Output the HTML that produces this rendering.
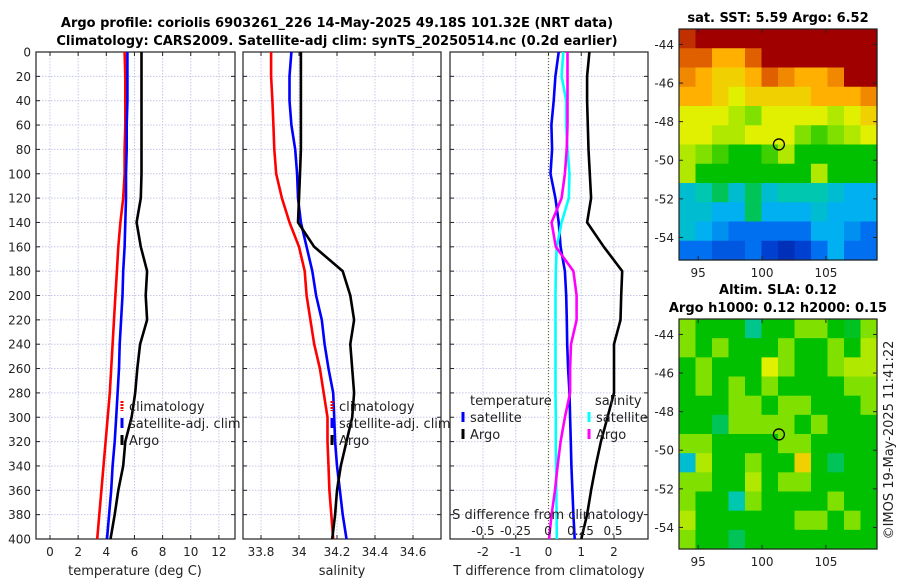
<!DOCTYPE html>
<html><head><meta charset="utf-8"><style>
body{margin:0;background:#fff}
svg{display:block;font-family:"DejaVu Sans","Liberation Sans",sans-serif}
</style></head><body>
<svg id="fig" width="900" height="580" xmlns="http://www.w3.org/2000/svg">
<rect width="900" height="580" fill="#fff"/>
<text x="337" y="27" font-size="13" font-weight="bold" text-anchor="middle">Argo profile: coriolis 6903261_226 14-May-2025 49.18S 101.32E (NRT data)</text>
<text x="337" y="45" font-size="13" font-weight="bold" text-anchor="middle">Climatology: CARS2009. Satellite-adj clim: synTS_20250514.nc (0.2d earlier)</text>
<text x="778" y="22" font-size="13" font-weight="bold" text-anchor="middle">sat. SST: 5.59 Argo: 6.52</text>
<text x="778" y="294" font-size="13" font-weight="bold" text-anchor="middle">Altim. SLA: 0.12</text>
<text x="778" y="312" font-size="13" font-weight="bold" text-anchor="middle">Argo h1000: 0.12 h2000: 0.15</text>
<text transform="translate(893,440) rotate(-90)" font-size="13" text-anchor="middle" fill="#222">©IMOS 19-May-2025 11:41:22</text>
<g id="g"></g>
</svg>
<script>
const depths=[0,20,40,60,80,100,120,140,160,180,200,220,240,260,280,300,320,340,360,380,400];
const tClim=[5.3,5.35,5.35,5.35,5.3,5.3,5.2,5.0,4.85,4.75,4.65,4.55,4.45,4.35,4.25,4.1,3.95,3.8,3.65,3.5,3.35];
const tSat=[5.5,5.5,5.5,5.45,5.45,5.4,5.4,5.35,5.3,5.2,5.15,5.05,4.95,4.9,4.8,4.7,4.6,4.45,4.35,4.2,4.05];
const tArgo=[6.5,6.5,6.5,6.5,6.5,6.5,6.45,6.15,6.45,6.9,6.8,6.9,6.4,6.2,6.05,5.8,5.35,5.2,4.85,4.6,4.3];
const sClim=[33.853,33.853,33.86,33.865,33.87,33.88,33.91,33.95,34.0,34.03,34.04,34.06,34.08,34.11,34.13,34.15,34.15,34.155,34.16,34.17,34.18];
const sSat=[33.96,33.95,33.95,33.96,33.98,33.99,33.995,34.01,34.04,34.07,34.09,34.12,34.135,34.155,34.18,34.185,34.19,34.2,34.215,34.23,34.25];
const sArgo=[34.01,34.01,34.01,34.01,34.01,34.005,34.0,33.995,34.08,34.23,34.27,34.29,34.27,34.28,34.29,34.28,34.25,34.22,34.2,34.19,34.175];
const dTSat=[0.31,0.21,0.16,0.09,0.11,0.06,0.21,0.31,0.37,0.5,0.54,0.56,0.57,0.6,0.64,0.66,0.68,0.7,0.73,0.76,0.8];
const dTArgo=[1.25,1.18,1.18,1.2,1.22,1.26,1.3,1.18,1.69,2.25,2.22,2.2,2.0,2.0,2.0,1.8,1.6,1.44,1.3,1.18,1.0];
const dSSat=[0.118,0.105,0.14,0.14,0.15,0.165,0.16,0.105,0.067,0.06,0.058,0.058,0.058,0.058,0.058,0.06,0.06,0.062,0.064,0.066,0.068];
const dSArgo=[0.15,0.15,0.15,0.15,0.144,0.13,0.105,0.028,0.06,0.195,0.22,0.22,0.177,0.17,0.17,0.13,0.097,0.074,0.054,0.028,0.008];
const depthTicks=[0,20,40,60,80,100,120,140,160,180,200,220,240,260,280,300,320,340,360,380,400];
const tTicks=[0,2,4,6,8,10,12];
const sTicks=[33.8,34,34.2,34.4,34.6];
const sTickLabels=["33.8","34","34.2","34.4","34.6"];
const dTTicks=[-2,-1,0,1,2];
const dSTicks=[-0.5,-0.25,0,0.25,0.5];
const dSTickLabels=["-0.5","-0.25","0","0.25","0.5"];
const sstGrid=[
[9.5,10,10,10,10,10,10,10,10,10,10,10],
[9,9,8,8,9,10,10,10,10,10,10,10],
[8.5,8,7.5,7.5,8,9,8.5,8,8,8.5,10,10],
[8,8,7.5,7,7.5,7.5,7.5,7.5,8,8,8,8.5],
[7,7,7,6.5,6,7,7,7,7,6.5,7,7.5],
[7,7,6.5,6.5,7,7,7,6,5.5,6,6.5,7],
[6.5,6,5.5,5,5,5.5,6.5,5,5,5,5,5],
[6.5,5,5,5,5,5,5,5,6.5,5,5,5],
[3.5,4,4.5,3.5,4.5,3.5,4,4,4,3.5,3,3],
[3.5,3.5,3,3,4.5,3,3,3,3.5,3,3,3],
[3.5,3,2.5,2,2,2,2,2,3,3,2.5,2],
[2,2,1.5,1.5,2,1,0.5,1,2,3,2,2]];
const slaGrid=[
[6,5,5,5,4.2,5,5,6,6,5,4.8,6],
[6,5,6,5,5,5,6,5,5,6,5,6.5],
[5,6,5,5,5,7,6,5,5,6,6.5,6.5],
[5,6,5,6,5,6,5,5,5,5,6,6],
[5,5,5,6,6,5,6,6,5,5,5,6],
[5,5,4.5,6,6,6,6,5,6,5,5,5],
[6,6,5,5,5,5,6,6,5,5,5,5],
[3.5,6.5,5,5,6,5,5,7.5,5,4.5,5,5],
[6,6,5,5,6.5,5,6,6,5,5,5,5],
[6,5,5,4,6,5,5,5,5,6,5,5],
[6.5,5,5,5,5,5,5,6,6,5,6,5],
[6,5,5,4.5,5,5,5,5,5,5,5,5]];
const latTicks=[-44,-46,-48,-50,-52,-54];
const lonTicks=[95,100,105];
const argoLon=101.32, argoLat=-49.18;

const NS="http://www.w3.org/2000/svg";
const G=document.getElementById('g');
function el(tag,attrs,parent){const e=document.createElementNS(NS,tag);for(const k in attrs)e.setAttribute(k,attrs[k]);(parent||G).appendChild(e);return e;}
function txt(x,y,s,anchor,size,parent){const t=el('text',{x:x,y:y,'font-size':size||12,'text-anchor':anchor||'middle',fill:'#222'},parent);t.textContent=s;return t;}
const yTop=52,yBot=539;
const yD=d=>yTop+(d/400)*(yBot-yTop);
function lin(d0,d1,r0,r1){return v=>r0+(v-d0)*(r1-r0)/(d1-d0);}
const xT=lin(0,12,50,218.9);
const xS=lin(33.8,34.6,261,413);
const xdT=lin(-2,2,483,614);
const xdS=lin(-0.5,0.5,483,613);
const panels=[[36,235],[243,441],[450,648]];

function panelFrame(i,xs,xfn,labels){
  const [x0,x1]=panels[i];
  const pg=el('g',{});
  
  
  xs.forEach(v=>{const x=xfn(v);const l=el('line',{x1:x,x2:x,y1:yTop,y2:yBot,stroke:'#c4c8e6','stroke-dasharray':'1.5,1.5','stroke-width':1},pg);});
  depthTicks.forEach(d=>{const y=yD(d);const l=el('line',{x1:x0,x2:x1,y1:y,y2:y,stroke:'#c4c8e6','stroke-dasharray':'1.5,1.5','stroke-width':1},pg);
    el('line',{x1:x0,x2:x0+4,y1:y,y2:y,stroke:'#222'},pg);el('line',{x1:x1,x2:x1-4,y1:y,y2:y,stroke:'#222'},pg);});
  xs.forEach((v,k)=>{const x=xfn(v);el('line',{x1:x,x2:x,y1:yBot,y2:yBot-4,stroke:'#222'},pg);el('line',{x1:x,x2:x,y1:yTop,y2:yTop+4,stroke:'#222'},pg);
    const t=txt(x,556,labels[k],'middle',12,pg);});
  const r=el('rect',{x:x0,y:yTop,width:x1-x0,height:yBot-yTop,fill:'none',stroke:'#222','stroke-width':1.2},pg);
  
  return pg;
}
function series(vals,xfn,color,name,w){
  const pts=vals.map((v,i)=>xfn(v).toFixed(1)+','+yD(depths[i]).toFixed(1)).join(' ');
  const p=el('polyline',{points:pts,fill:'none',stroke:color,'stroke-width':w||2.6,'stroke-linejoin':'round'});
  
  
}
function legendItem(x,y,color,label,dashed){
  const l=el('line',{x1:x,x2:x,y1:y-10,y2:y,stroke:color,'stroke-width':3});
  if(dashed)l.setAttribute('stroke-dasharray','2,1');
  
  
  const t=txt(x+7,y,label,'start',13);
  
  
}
depthTicks.forEach(d=>{const t=txt(31,yD(d)+4.5,String(d),'end',12);});
panelFrame(0,tTicks,xT,tTicks.map(String));
panelFrame(1,sTicks,xS,sTickLabels);
panelFrame(2,dTTicks,xdT,dTTicks.map(String));
const z=el('line',{x1:xdT(0),x2:xdT(0),y1:yTop,y2:yBot,stroke:'#556b2f','stroke-dasharray':'1,2','stroke-width':1.2});

series(tClim,xT,'#ff0000','temp-climatology-line');
series(tSat,xT,'#0000ff','temp-satellite-line');
series(tArgo,xT,'#000000','temp-argo-line');
series(sClim,xS,'#ff0000','sal-climatology-line');
series(sSat,xS,'#0000ff','sal-satellite-line');
series(sArgo,xS,'#000000','sal-argo-line');
series(dTSat,xdT,'#0000ff','dT-satellite-line');
series(dTArgo,xdT,'#000000','dT-argo-line');
series(dSSat,xdS,'#00ffff','dS-satellite-line');
series(dSArgo,xdS,'#ff00ff','dS-argo-line');
[[135,575,'temperature (deg C)'],[342,575,'salinity'],[549,575,'T difference from climatology']].forEach(a=>{const t=txt(a[0],a[1],a[2],'middle',13);});
const st=txt(548,519,'S difference from climatology','middle',13);
dSTicks.forEach((v,k)=>{const t=txt(xdS(v),535,dSTickLabels[k],'middle',12);});
legendItem(122,411,'#ff0000','climatology',true);legendItem(122,428,'#0000ff','satellite-adj. clim');legendItem(122,445,'#000000','Argo');
legendItem(332,411,'#ff0000','climatology',true);legendItem(332,428,'#0000ff','satellite-adj. clim');legendItem(332,445,'#000000','Argo');
const lt=txt(470,405,'temperature','start',13);
legendItem(463,422,'#0000ff','satellite');legendItem(463,439,'#000000','Argo');
const ls=txt(595,405,'salinity','start',13);
legendItem(589,422,'#00ffff','satellite');legendItem(589,439,'#ff00ff','Argo');

// colormap (approximated from the reference)
const cmapStops=[[0,32,160],[0,64,208],[0,112,240],[0,176,240],[0,200,176],[0,192,0],[128,224,0],[224,240,0],[255,176,0],[224,96,0],[160,0,0]];
function cmap(v){const t=Math.max(0,Math.min(10,v));const i=Math.min(9,Math.floor(t)),f=t-i;const a=cmapStops[i],b=cmapStops[i+1];
  return 'rgb('+a.map((c,k)=>Math.round(c+(b[k]-c)*f)).join(',')+')';}
function drawMap(grid,y0,y1,name){
  const x0=679,x1=877;
  const mg=el('g',{});
  
  
  const rows=grid.length,cols=grid[0].length,cw=(x1-x0)/cols,ch=(y1-y0)/rows;
  grid.forEach((row,r)=>row.forEach((v,c)=>{const rc=el('rect',{x:(x0+c*cw).toFixed(2),y:(y0+r*ch).toFixed(2),width:(cw+0.6).toFixed(2),height:(ch+0.6).toFixed(2),fill:cmap(v)},mg);
    }));
  const lonX=lin(93.5,109,x0,x1), latY=lin(-43.2,-55.2,y0,y0+231.6);
  latTicks.forEach(l=>{const y=latY(l);el('line',{x1:x0,x2:x0+4,y1:y,y2:y,stroke:'#222'},mg);el('line',{x1:x1,x2:x1-4,y1:y,y2:y,stroke:'#222'},mg);
    const t=txt(674,y+4.5,String(l),'end',12,mg);});
  lonTicks.forEach(l=>{const x=lonX(l);el('line',{x1:x,x2:x,y1:y1,y2:y1-4,stroke:'#222'},mg);el('line',{x1:x,x2:x,y1:y0,y2:y0+4,stroke:'#222'},mg);
    const t=txt(x,y1+17,String(l),'middle',12,mg);});
  const f=el('rect',{x:x0,y:y0,width:x1-x0,height:y1-y0,fill:'none',stroke:'#222','stroke-width':1.2},mg);
  
  const ci=el('circle',{cx:lonX(argoLon),cy:latY(argoLat),r:5.5,fill:'none',stroke:'#000','stroke-width':1.3},mg);
  
}
drawMap(sstGrid,29,260,'sst-map');
drawMap(slaGrid,319,549,'sla-map');
</script>
</body></html>
